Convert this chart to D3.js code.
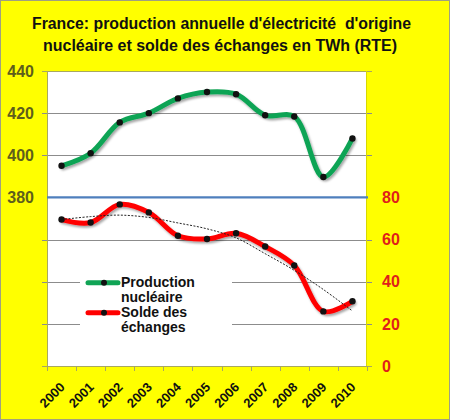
<!DOCTYPE html>
<html><head><meta charset="utf-8">
<script src="https://cdn.jsdelivr.net/npm/d3@7"></script>
<style>body{margin:0;background:#fff;} svg{display:block;font-family:"Liberation Sans",Arial,sans-serif;} .title{white-space:pre;}</style>
</head><body>
<svg id="c" width="450" height="420"></svg>
<script>
const years = ["2000","2001","2002","2003","2004","2005","2006","2007","2008","2009","2010"];
const production = [395, 401, 415.6, 420, 427, 430, 429, 419, 418.4, 389.7, 408];
const solde = [69.5, 68.1, 76.7, 72.9, 61.8, 60.3, 63.0, 56.7, 47.7, 25.9, 30.7];
const soldeTrend = [69.5, 70.9, 71.6, 70.5, 67.9, 65.1, 60.8, 53.3, 45.4, 36.3, 26.1];
const leftTicks = [380, 400, 420, 440];
const rightTicks = [0, 20, 40, 60, 80];
const titleLines = ["France: production annuelle d'électricité  d'origine", "nucléaire et solde des échanges en TWh (RTE)"];
const legendLabels = [["Production", "nucléaire"], ["Solde des", "échanges"]];

const svg = d3.select("#c");
const L = 47, R = 367, T = 71, B = 366;

svg.append("rect").attr("x",0.5).attr("y",0.5).attr("width",449).attr("height",419)
  .attr("fill","#ffff00").attr("stroke","#a0a080");

const defs = svg.append("defs");
const f = defs.append("filter").attr("id","sh").attr("x","-10%").attr("y","-10%").attr("width","130%").attr("height","140%");
f.append("feDropShadow").attr("dx",1.5).attr("dy",2).attr("stdDeviation",1.2).attr("flood-color","#000").attr("flood-opacity",0.35);

// title
svg.selectAll("text.title").data(titleLines).join("text").attr("class","title")
  .attr("x", (d,i)=> i===0 ? 221.5 : 220).attr("y",(d,i)=> i===0 ? 29 : 50.5)
  .attr("text-anchor","middle").attr("font-size",16).attr("font-weight","bold").attr("fill","#111")
  .attr("textLength",(d,i)=> i===0 ? 379 : 354).attr("lengthAdjust","spacingAndGlyphs")
  .text(d=>d);

const x = d3.scaleBand().domain(years).range([L,R]);
const yL = d3.scaleLinear().domain([300,440]).range([B,T]);
const yR = d3.scaleLinear().domain([0,140]).range([B,T]);
const cx = d => x(d) + x.bandwidth()/2;

// plot area
svg.append("rect").attr("x",L).attr("y",T).attr("width",R-L).attr("height",B-T).attr("fill","#fff");

// gridlines
const grid = svg.append("g").attr("stroke","#8c8c8c").attr("stroke-width",1);
[400,420].forEach(v=> grid.append("line").attr("x1",L-5).attr("x2",R+5).attr("y1",Math.round(yL(v))+0.5).attr("y2",Math.round(yL(v))+0.5));
[20,40,60].forEach(v=> grid.append("line").attr("x1",L-5).attr("x2",R+5).attr("y1",Math.round(yR(v))+0.5).attr("y2",Math.round(yR(v))+0.5));

// plot border
const bc = "#a8a860";
svg.append("line").attr("x1",L-5).attr("x2",R+5).attr("y1",T+0.5).attr("y2",T+0.5).attr("stroke",bc);
svg.append("line").attr("x1",L+0.5).attr("x2",L+0.5).attr("y1",T).attr("y2",B).attr("stroke",bc);
svg.append("line").attr("x1",R-0.5).attr("x2",R-0.5).attr("y1",T).attr("y2",B).attr("stroke","#d8d800");
svg.append("line").attr("x1",L-5).attr("x2",R+5).attr("y1",B+0.5).attr("y2",B+0.5).attr("stroke",bc);

// x ticks
const xt = years.map(d=>x(d)).concat([R]);
svg.selectAll("line.xt").data(xt).join("line").attr("class","xt")
  .attr("x1",d=>Math.round(d)+0.5).attr("x2",d=>Math.round(d)+0.5).attr("y1",B).attr("y2",B+5).attr("stroke",bc);

// separator
svg.append("line").attr("x1",L).attr("x2",R+1).attr("y1",yL(380)).attr("y2",yL(380))
  .attr("stroke","#4f7fbd").attr("stroke-width",2.2);

// axis labels
svg.selectAll("text.yl").data(leftTicks).join("text").attr("class","yl")
  .attr("x",34).attr("y",d=>yL(d)).attr("dy","0.36em").attr("text-anchor","end")
  .attr("font-size",16).attr("font-weight","bold").attr("fill","#5e5e1c").text(d=>d);
svg.selectAll("text.yr").data(rightTicks).join("text").attr("class","yr")
  .attr("x",382).attr("y",d=>yR(d)).attr("dy","0.36em").attr("text-anchor","start")
  .attr("font-size",16).attr("font-weight","bold").attr("fill","#e01f1a").text(d=>d);
svg.selectAll("text.xl").data(years).join("text").attr("class","xl")
  .attr("transform",d=>`translate(${cx(d)+4},388) rotate(-45)`).attr("text-anchor","end")
  .attr("font-size",13).attr("font-weight","bold").attr("fill","#111").text(d=>d);

// lines
const curve = d3.curveCatmullRom.alpha(0.5);
const lineP = d3.line().x((d,i)=>cx(years[i])).y(d=>yL(d)).curve(curve);
const lineS = d3.line().x((d,i)=>cx(years[i])).y(d=>yR(d)).curve(curve);

svg.append("path").attr("d",lineP(production)).attr("fill","none").attr("stroke","#10a455")
  .attr("stroke-width",5).attr("stroke-linecap","round").attr("filter","url(#sh)");
svg.selectAll("circle.p").data(production).join("circle").attr("class","p")
  .attr("cx",(d,i)=>cx(years[i])).attr("cy",d=>yL(d)).attr("r",3.2).attr("fill","#111");

svg.append("path").attr("d",lineS(solde)).attr("fill","none").attr("stroke","#ff0000")
  .attr("stroke-width",5).attr("stroke-linecap","round").attr("filter","url(#sh)");
svg.append("path").attr("d",lineS(soldeTrend)).attr("fill","none").attr("stroke","#222")
  .attr("stroke-width",1).attr("stroke-dasharray","2,1.5");
svg.selectAll("circle.s").data(solde).join("circle").attr("class","s")
  .attr("cx",(d,i)=>cx(years[i])).attr("cy",d=>yR(d)).attr("r",3.2).attr("fill","#111");

// legend
const lg = svg.append("g");
lg.append("rect").attr("x",80).attr("y",258).attr("width",152).attr("height",84).attr("fill","#fff");
const lcol = ["#10a455","#ff0000"];
const ly = [282.7, 312.7];
legendLabels.forEach((lab,i)=>{
  lg.append("line").attr("x1",88).attr("x2",118).attr("y1",ly[i]).attr("y2",ly[i])
    .attr("stroke",lcol[i]).attr("stroke-width",5).attr("stroke-linecap","round");
  lg.append("circle").attr("cx",104).attr("cy",ly[i]).attr("r",3).attr("fill","#111");
  lab.forEach((t,j)=> lg.append("text").attr("x",121).attr("y",ly[i]+4.5+j*14.5)
    .attr("font-size",14).attr("font-weight","bold").attr("fill","#111").text(t));
});
</script>
</body></html>
